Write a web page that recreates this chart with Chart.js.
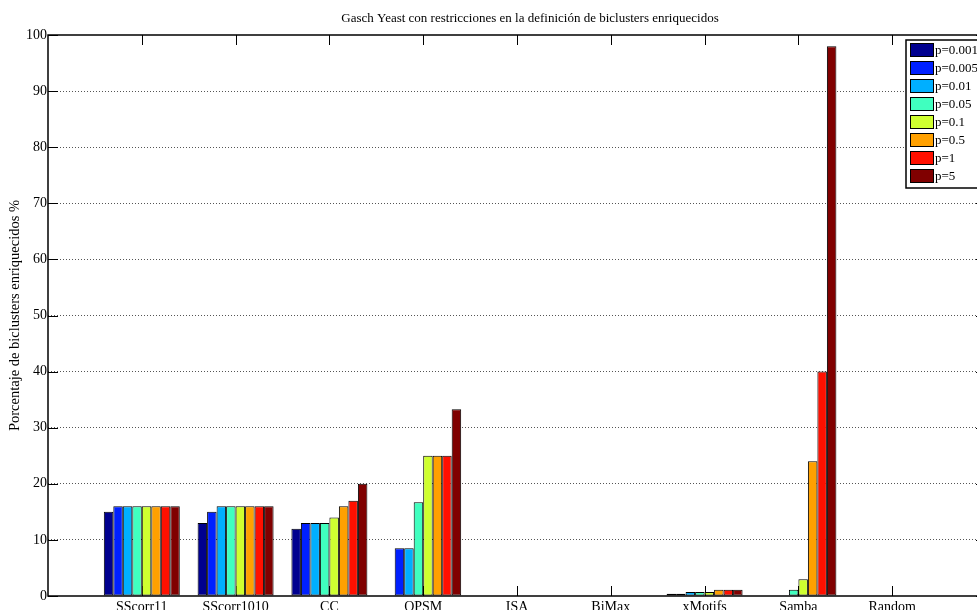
<!DOCTYPE html>
<html>
<head>
<meta charset="utf-8">
<script src="https://cdn.jsdelivr.net/npm/chart.js@4.4.1/dist/chart.umd.min.js"></script>
<style>
html,body{margin:0;padding:0;overflow:hidden;background:#fff}
#wrap{position:absolute;left:0;top:0;width:1000px;height:625px}
</style>
</head>
<body>
<div id="wrap"><canvas id="chart" width="1000" height="625"></canvas></div>
<script>
// categories and series
const categories=["SScorr11","SScorr1010","CC","OPSM","ISA","BiMax","xMotifs","Samba","Random"]
const seriesNames=["p=0.001","p=0.005","p=0.01","p=0.05","p=0.1","p=0.5","p=1","p=5"]
const seriesColors=["#00008f","#0020ff","#00afff","#40ffbf","#cfff30","#ffa000","#ff1000","#800000"]

const p0001=[15,13,12,0,0,0,0.4,0,0]
const p0005=[16,15,13,8.5,0,0,0.4,0,0]
const p001=[16,16,13,8.5,0,0,0.7,0,0]
const p005=[16,16,13,16.7,0,0,0.7,1.1,0]
const p01=[16,16,14,25,0,0,0.7,3,0]
const p05=[16,16,16,25,0,0,1.1,24,0]
const p1=[16,16,17,25,0,0,1.1,40,0]
const p5=[16,16,20,33.3,0,0,1.1,98,0]

const yTicks=[0,10,20,30,40,50,60,70,80,90,100]

const titleText="Gasch Yeast con restricciones en la definición de biclusters enriquecidos"
const yLabel="Porcentaje de biclusters enriquecidos %"

const FONT="Liberation Serif"

// one empty slot each side, like the matlab axis limits
const labels=[""].concat(categories).concat([""])
const allSeries=[p0001,p0005,p001,p005,p01,p05,p1,p5]

const datasets=allSeries.map((s,i)=>({
label:seriesNames[i],
data:[null].concat(s).concat([null]),
backgroundColor:seriesColors[i],
borderColor:"#000",
borderWidth:1,
borderSkipped:false,
categoryPercentage:0.81,
barPercentage:1
}))

const framePlugin={
id:"frame",
beforeDatasetsDraw(chart){
const ctx=chart.ctx
const a=chart.chartArea
const x=chart.scales.x
const y=chart.scales.y
ctx.save()
ctx.strokeStyle="#000"
ctx.lineWidth=1
ctx.beginPath()
for(let i=1;i<=categories.length;i++){
let px=Math.round(x.getPixelForValue(i))+0.5
ctx.moveTo(px,a.top);ctx.lineTo(px,a.top+10)
ctx.moveTo(px,a.bottom);ctx.lineTo(px,a.bottom-10)
}
yTicks.forEach(v=>{
let py=Math.round(y.getPixelForValue(v))+0.5
ctx.moveTo(a.left,py);ctx.lineTo(a.left+10,py)
ctx.moveTo(a.right,py);ctx.lineTo(a.right-10,py)
})
ctx.stroke()
ctx.restore()
},
afterDraw(chart){
const ctx=chart.ctx
const a=chart.chartArea
ctx.save()
// axes box
ctx.strokeStyle="#000"
ctx.lineWidth=1.5
ctx.strokeRect(a.left,a.top,a.right-a.left,a.bottom-a.top)

// title
ctx.fillStyle="#000"
ctx.font="13px '"+FONT+"'"
ctx.textAlign="center"
ctx.textBaseline="middle"
ctx.fillText(titleText,530,19)

// legend box
const lx=906,ly=40,rowH=18
const n=chart.data.datasets.length
ctx.fillStyle="#fff"
ctx.fillRect(lx,ly,100,n*rowH+4)
ctx.lineWidth=1.5
ctx.strokeRect(lx,ly,100,n*rowH+4)
ctx.font="13px '"+FONT+"'"
ctx.textAlign="left"
chart.data.datasets.forEach((d,i)=>{
let sy=ly+3+i*rowH
ctx.fillStyle=d.backgroundColor
ctx.fillRect(lx+4,sy,24,14)
ctx.lineWidth=1
ctx.strokeStyle="#000"
ctx.strokeRect(lx+4.5,sy+0.5,23,13)
ctx.fillStyle="#000"
ctx.fillText(d.label,lx+29,sy+8)
})
ctx.restore()
}
}

const chart=new Chart(document.getElementById("chart").getContext("2d"),{
type:"bar",
data:{labels:labels,datasets:datasets},
options:{
responsive:false,
animation:false,
devicePixelRatio:1,
layout:{padding:{top:35,right:14,left:0,bottom:0}},
plugins:{legend:{display:false},tooltip:{enabled:false},title:{display:false}},
scales:{
x:{
offset:false,
grid:{display:false,drawTicks:false},
border:{display:false},
ticks:{color:"#000",font:{family:FONT,size:14},padding:3,autoSkip:false,maxRotation:0},
afterFit(s){s.height=29}
},
y:{
min:0,max:100,
ticks:{stepSize:10,color:"#000",font:{family:FONT,size:14},padding:1},
grid:{
drawTicks:false,
color:c=>(c.tick.value===0||c.tick.value===100)?"rgba(0,0,0,0)":"#555",
lineWidth:1
},
border:{display:false,dash:[1,2]},
title:{display:true,text:yLabel,color:"#000",font:{family:FONT,size:14.5},padding:{top:6,bottom:0}},
afterFit(s){s.width=48}
}
}
},
plugins:[framePlugin]
})
</script>
</body>
</html>
